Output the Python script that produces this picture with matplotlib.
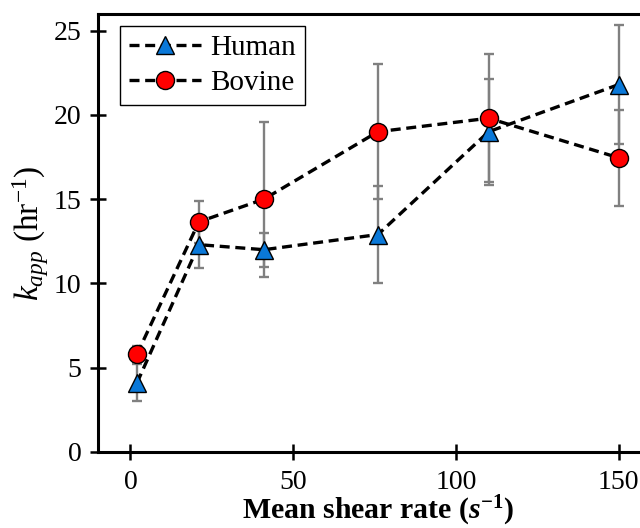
import numpy as np
import matplotlib.pyplot as plt

plt.rcParams['font.family'] = 'Liberation Serif'
plt.rcParams['mathtext.fontset'] = 'custom'
plt.rcParams['mathtext.rm'] = 'Liberation Serif'
plt.rcParams['mathtext.it'] = 'Liberation Serif:italic'
plt.rcParams['mathtext.bf'] = 'Liberation Serif:bold:italic'
plt.rcParams['mathtext.sf'] = 'Liberation Serif:bold'

shear = [2, 21, 41, 76, 110, 150]
human = [4.1, 12.3, 12.0, 12.9, 19.0, 21.8]
human_err = [1.1, 1.4, 1.0, 2.9, 3.15, 3.55]
bovine = [5.8, 13.65, 15.0, 19.0, 19.8, 17.45]
bovine_err = [0.5, 1.25, 4.6, 4.0, 3.8, 2.85]

fig = plt.figure(figsize=(6.4, 5.28), dpi=100)
ax = fig.add_axes([0.153, 0.144, 0.875, 0.83])

ekw = dict(fmt='none', ecolor='#808080', elinewidth=1.7, capsize=3.6, capthick=1.7, zorder=1)
ax.errorbar(shear, human, yerr=human_err, **ekw)
ax.errorbar(shear, bovine, yerr=bovine_err, **ekw)

ax.plot(shear, human, '--', color='black', lw=2.4, dashes=(3, 1.7),
        marker='^', ms=12.5, mfc='#0a78d8', mec='black', mew=1.0, label='Human', zorder=3)
ax.plot(shear, bovine, '--', color='black', lw=2.4, dashes=(3, 1.7),
        marker='o', ms=13, mfc='#ff0000', mec='black', mew=1.0, label='Bovine', zorder=3)

ax.set_xlim(-10, 162)
ax.set_ylim(0, 26)
ax.set_xticks([0, 50, 100, 150])
ax.set_yticks([0, 5, 10, 15, 20, 25])
ax.tick_params(direction='inout', length=12, width=1.8, labelsize=20, pad=6)
ax.tick_params(axis='x', pad=7)
for s in ax.spines.values():
    s.set_linewidth(2.2)

ax.set_xlabel(r'Mean shear rate ($\mathbf{s}^{\mathsf{-1}}$)', fontsize=21.5,
              fontweight='bold', labelpad=-1)
ax.set_ylabel(r'$k_{app}$ (hr$^{-1}$)', fontsize=24, labelpad=2)

leg = ax.legend(loc='upper left', bbox_to_anchor=(0.039, 0.973), borderaxespad=0,
                fontsize=21, frameon=True, fancybox=False, edgecolor='black',
                framealpha=1, handlelength=2.5, borderpad=0.3, labelspacing=0.3,
                handletextpad=0.3)
leg.get_frame().set_linewidth(1.0)

fig.savefig('out.png', dpi=100)
